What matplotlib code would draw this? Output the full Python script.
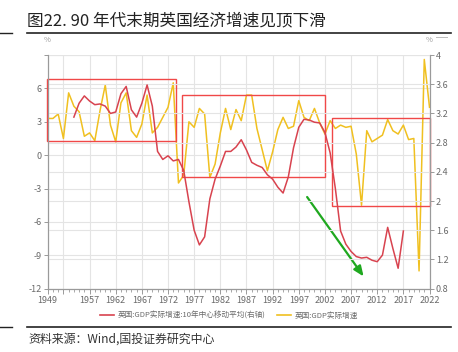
import matplotlib
matplotlib.use("Agg")
import matplotlib.pyplot as plt
from matplotlib.patches import Rectangle
from matplotlib.lines import Line2D
import numpy as np

plt.rcParams['font.family'] = ['Noto Sans CJK SC', 'DejaVu Sans']

years_gdp = list(range(1949, 2023))
gdp = [3.3, 3.3, 3.7, 1.5, 5.6, 4.4, 3.9, 1.7, 2.0, 1.3,
       4.0, 6.3, 2.7, 1.2, 4.7, 5.6, 2.2, 1.6, 2.8, 5.4,
       2.0, 2.5, 3.4, 4.3, 6.5, -2.5, -1.8, 3.0, 2.5, 4.2,
       3.7, -2.0, -0.8, 2.0, 4.2, 2.3, 4.1, 3.1, 5.4, 5.4,
       2.4, 0.5, -1.4, 0.3, 2.3, 3.4, 2.4, 2.6, 4.9, 3.4,
       3.1, 4.2, 2.9, 1.9, 3.1, 2.4, 2.7, 2.5, 2.6, 0.1,
       -4.5, 2.2, 1.2, 1.5, 1.8, 3.2, 2.2, 1.9, 2.7, 1.4,
       1.5, -10.4, 8.6, 4.3]

years_ma = list(range(1954, 2018))
gdp_ma10 = [3.15, 3.34, 3.44, 3.37, 3.32, 3.33, 3.30, 3.20, 3.22, 3.47,
            3.57, 3.25, 3.15, 3.34, 3.59, 3.30, 2.68, 2.57, 2.62, 2.55,
            2.57, 2.42, 1.99, 1.60, 1.40, 1.51, 2.03, 2.30, 2.48, 2.68,
            2.68, 2.74, 2.84, 2.70, 2.53, 2.49, 2.46, 2.36, 2.30, 2.19,
            2.11, 2.33, 2.73, 3.01, 3.12, 3.11, 3.08, 3.07, 2.94, 2.66,
            2.17, 1.59, 1.41, 1.31, 1.24, 1.22, 1.23, 1.19, 1.17, 1.26,
            1.64, 1.35, 1.08, 1.59]

xtick_years = [1949, 1952, 1957, 1962, 1967, 1972, 1977, 1982, 1987, 1992,
               1997, 2002, 2007, 2012, 2017, 2022]
xtick_labels = ['1949', '', '1957', '1962', '1967', '1972', '1977', '1982', '1987',
                '1992', '1997', '2002', '2007', '2012', '2017', '2022']
left_ticks = [-12, -9, -6, -3, 0, 3, 6, 9]
left_labels = ['-12', '-9', '-6', '-3', '0', '3', '6', '']
right_ticks = [0.8, 1.2, 1.6, 2.0, 2.4, 2.8, 3.2, 3.6, 4.0]
right_labels = ['0.8', '1.2', '1.6', '2', '2.4', '2.8', '3.2', '3.6', '4']

title = '图22. 90 年代末期英国经济增速见顶下滑'
source = '资料来源：Wind,国投证券研究中心'
label_ma = '英国:GDP实际增速:10年中心移动平均(右轴)'
label_gdp = '英国:GDP实际增速'

RED = '#d8434f'
YEL = '#f0c020'
GRID = '#e4e4e4'
AX = '#9a9a9a'
TXT = '#6a6a6a'

fig = plt.figure(figsize=(4.58, 3.52), dpi=100)
ax = fig.add_axes([0.1042, 0.1798, 0.8336, 0.6639])
ax2 = ax.twinx()

ax.set_xlim(1949, 2022)
ax.set_ylim(-12, 9)
ax2.set_ylim(0.8, 4.0)

# grids
for v in left_ticks:
    ax.axhline(v, color=GRID, lw=0.8, zorder=0)
for v in right_ticks:
    ax2.axhline(v, color=GRID, lw=0.8, zorder=0)
for x in xtick_years:
    ax.axvline(x, color=GRID, lw=0.8, zorder=0)

ax.plot(years_gdp, gdp, color=YEL, lw=1.1, zorder=3)
ax2.plot(years_ma, gdp_ma10, color=RED, lw=1.1, zorder=3)

ax.set_xticks(xtick_years)
ax.set_xticklabels(xtick_labels)
ax.set_xticks(range(1949, 2023), minor=True)
ax.set_yticks(left_ticks)
ax.set_yticklabels(left_labels)
ax2.set_yticks(right_ticks)
ax2.set_yticklabels(right_labels)

for a in (ax, ax2):
    for s in a.spines.values():
        s.set_color(AX)
        s.set_linewidth(0.8)
    a.spines['top'].set_visible(False)
    a.tick_params(colors=AX, labelcolor=TXT, labelsize=6.5, width=0.7, length=3, pad=1.5)
ax.tick_params(axis='x', which='minor', length=2.5, width=0.6, color=AX)
ax.tick_params(axis='x', which='major', length=3.5)

# annotation boxes
boxes = [((1948.9, 1.23), 24.7, 5.61), ((1974.6, -1.93), 27.4, 7.34), ((2003.4, -4.53), 18.6, 7.91)]
for (x0, y0), w, h in boxes:
    ax.add_patch(Rectangle((x0, y0), w, h, fill=False, edgecolor='#f04848', lw=1.0,
                           zorder=4, clip_on=False))

ax.annotate('', xy=(2009.4, -10.9), xytext=(1998.6, -3.76),
            arrowprops=dict(arrowstyle='-|>,head_length=0.6,head_width=0.25',
                            color='#1fa81f', lw=1.6, shrinkA=0, shrinkB=0), zorder=5)

fig.text(0.103, 0.88, '%', fontsize=5.5, color=AX, ha='center')
fig.text(0.938, 0.88, '%', fontsize=5.5, color=AX, ha='center')
fig.add_artist(Line2D([0.952, 0.975], [0.895, 0.895], color='#bbbbbb', lw=0.7))

handles = [Line2D([], [], color=RED, lw=1.2), Line2D([], [], color=YEL, lw=1.2)]
fig.legend(handles, [label_ma, label_gdp], loc='center', bbox_to_anchor=(0.5, 0.103),
           ncol=2, frameon=False, fontsize=5.5, labelcolor=TXT, handlelength=1.8,
           handletextpad=0.5, columnspacing=1.5)

fig.text(0.059, 0.94, title, fontsize=12, color='#222222', ha='left', va='center',
         fontweight='medium')
fig.add_artist(Line2D([0.059, 0.985], [0.906, 0.906], color='#222222', lw=1.2))
fig.add_artist(Line2D([0.0, 0.026], [0.906, 0.906], color='#222222', lw=1.0))
fig.add_artist(Line2D([0.059, 0.985], [0.071, 0.071], color='#222222', lw=1.2))
fig.add_artist(Line2D([0.0, 0.026], [0.071, 0.071], color='#222222', lw=1.0))
fig.text(0.062, 0.037, source, fontsize=8.6, color='#333333', ha='left', va='center',
         style='italic')

fig.savefig('out.png', dpi=100)
